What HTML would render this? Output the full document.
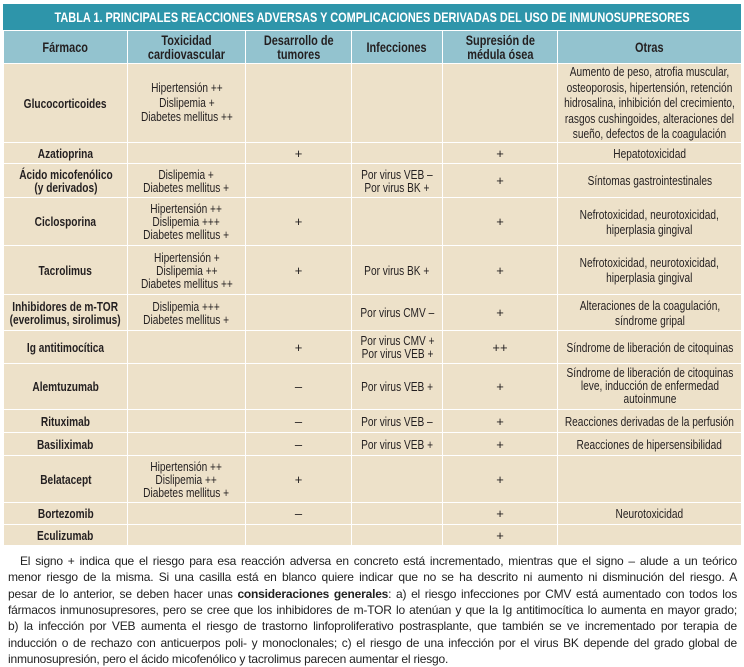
<!DOCTYPE html>
<html><head><meta charset="utf-8"><style>
body{margin:0;width:744px;height:665px;background:#fff;position:relative;overflow:hidden;font-family:"Liberation Sans",sans-serif;color:#231f20}
.s{display:inline-block;transform:scaleX(0.78);transform-origin:center;white-space:nowrap;margin:0 -80px}
.title{position:absolute;left:3px;top:4px;width:738px;height:26px;background:#2e95aa;color:#fff;font-weight:bold;font-size:14px;line-height:26px;text-align:center;white-space:nowrap;overflow:hidden}
table{position:absolute;left:3px;top:30px;width:738px;border-collapse:collapse;table-layout:fixed}
td,th{border:1.5px solid #fff;text-align:center;vertical-align:middle;padding:0;font-size:13px;line-height:13px;background:#ede1c9;overflow:visible;white-space:nowrap}
th{background:#93c3cf;font-size:14px;line-height:14px;font-weight:bold}
td.f{font-weight:bold}
.p{position:absolute;left:8px;width:729px;font-family:"Liberation Sans",sans-serif;font-size:12px;letter-spacing:-0.2px;color:#222;text-align:justify;text-align-last:justify;white-space:nowrap;line-height:16px}
</style></head><body>
<div class="title"><span class="s">TABLA 1. PRINCIPALES REACCIONES ADVERSAS Y COMPLICACIONES DERIVADAS DEL USO DE INMUNOSUPRESORES</span></div>
<table>
<colgroup><col style="width:124px"><col style="width:118px"><col style="width:106px"><col style="width:91px"><col style="width:115px"><col style="width:184px"></colgroup>
<tr style="height:33px"><th><span class="s">Fármaco</span></th><th><span class="s">Toxicidad<br>cardiovascular</span></th><th><span class="s">Desarrollo de<br>tumores</span></th><th><span class="s">Infecciones</span></th><th><span class="s">Supresión de<br>médula ósea</span></th><th><span class="s">Otras</span></th></tr>
<tr style="height:79px"><td class="f"><span class="s">Glucocorticoides</span></td><td><span class="s" style="line-height:14.5px">Hipertensión ++<br>Dislipemia +<br>Diabetes mellitus ++</span></td><td></td><td></td><td></td><td><span class="s" style="line-height:15.5px">Aumento de peso, atrofia muscular,<br>osteoporosis, hipertensión, retención<br>hidrosalina, inhibición del crecimiento,<br>rasgos cushingoides, alteraciones del<br>sueño, defectos de la coagulación</span></td></tr>
<tr style="height:21px"><td class="f"><span class="s">Azatioprina</span></td><td></td><td>+</td><td></td><td>+</td><td><span class="s">Hepatotoxicidad</span></td></tr>
<tr style="height:34px"><td class="f"><span class="s">Ácido micofenólico<br>(y derivados)</span></td><td><span class="s">Dislipemia +<br>Diabetes mellitus +</span></td><td></td><td><span class="s">Por virus VEB –<br>Por virus BK +</span></td><td>+</td><td><span class="s">Síntomas gastrointestinales</span></td></tr>
<tr style="height:48px"><td class="f"><span class="s">Ciclosporina</span></td><td><span class="s">Hipertensión ++<br>Dislipemia +++<br>Diabetes mellitus +</span></td><td>+</td><td></td><td>+</td><td><span class="s" style="line-height:15px">Nefrotoxicidad, neurotoxicidad,<br>hiperplasia gingival</span></td></tr>
<tr style="height:49px"><td class="f"><span class="s">Tacrolimus</span></td><td><span class="s">Hipertensión +<br>Dislipemia ++<br>Diabetes mellitus ++</span></td><td>+</td><td><span class="s">Por virus BK +</span></td><td>+</td><td><span class="s" style="line-height:15px">Nefrotoxicidad, neurotoxicidad,<br>hiperplasia gingival</span></td></tr>
<tr style="height:36px"><td class="f"><span class="s">Inhibidores de m-TOR<br>(everolimus, sirolimus)</span></td><td><span class="s">Dislipemia +++<br>Diabetes mellitus +</span></td><td></td><td><span class="s">Por virus CMV –</span></td><td>+</td><td><span class="s" style="line-height:15px">Alteraciones de la coagulación,<br>síndrome gripal</span></td></tr>
<tr style="height:33px"><td class="f"><span class="s">Ig antitimocítica</span></td><td></td><td>+</td><td><span class="s">Por virus CMV +<br>Por virus VEB +</span></td><td>++</td><td><span class="s">Síndrome de liberación de citoquinas</span></td></tr>
<tr style="height:46px"><td class="f"><span class="s">Alemtuzumab</span></td><td></td><td>–</td><td><span class="s">Por virus VEB +</span></td><td>+</td><td style="vertical-align:top;padding-top:2px"><span class="s">Síndrome de liberación de citoquinas<br>leve, inducción de enfermedad<br>autoinmune</span></td></tr>
<tr style="height:23px"><td class="f"><span class="s">Rituximab</span></td><td></td><td>–</td><td><span class="s">Por virus VEB –</span></td><td>+</td><td><span class="s">Reacciones derivadas de la perfusión</span></td></tr>
<tr style="height:23px"><td class="f"><span class="s">Basiliximab</span></td><td></td><td>–</td><td><span class="s">Por virus VEB +</span></td><td>+</td><td><span class="s">Reacciones de hipersensibilidad</span></td></tr>
<tr style="height:47px"><td class="f"><span class="s">Belatacept</span></td><td><span class="s">Hipertensión ++<br>Dislipemia ++<br>Diabetes mellitus +</span></td><td>+</td><td></td><td>+</td><td></td></tr>
<tr style="height:22px"><td class="f"><span class="s">Bortezomib</span></td><td></td><td>–</td><td></td><td>+</td><td><span class="s">Neurotoxicidad</span></td></tr>
<tr style="height:21px"><td class="f"><span class="s">Eculizumab</span></td><td></td><td></td><td></td><td>+</td><td></td></tr>
</table>
<div class="p" style="top:553px;left:20px;width:717px">El signo + indica que el riesgo para esa reacción adversa en concreto está incrementado, mientras que el signo – alude a un teórico</div>
<div class="p" style="top:569px">menor riesgo de la misma. Si una casilla está en blanco quiere indicar que no se ha descrito ni aumento ni disminución del riesgo. A</div>
<div class="p" style="top:586px">pesar de lo anterior, se deben hacer unas <b>consideraciones generales</b>: a) el riesgo infecciones por CMV está aumentado con todos los</div>
<div class="p" style="top:602px">fármacos inmunosupresores, pero se cree que los inhibidores de m-TOR lo atenúan y que la Ig antitimocítica lo aumenta en mayor grado;</div>
<div class="p" style="top:618px">b) la infección por VEB aumenta el riesgo de trastorno linfoproliferativo postrasplante, que también se ve incrementado por terapia de</div>
<div class="p" style="top:635px">inducción o de rechazo con anticuerpos poli- y monoclonales; c) el riesgo de una infección por el virus BK depende del grado global de</div>
<div class="p" style="top:651px;text-align-last:left">inmunosupresión, pero el ácido micofenólico y tacrolimus parecen aumentar el riesgo.</div>
</body></html>
